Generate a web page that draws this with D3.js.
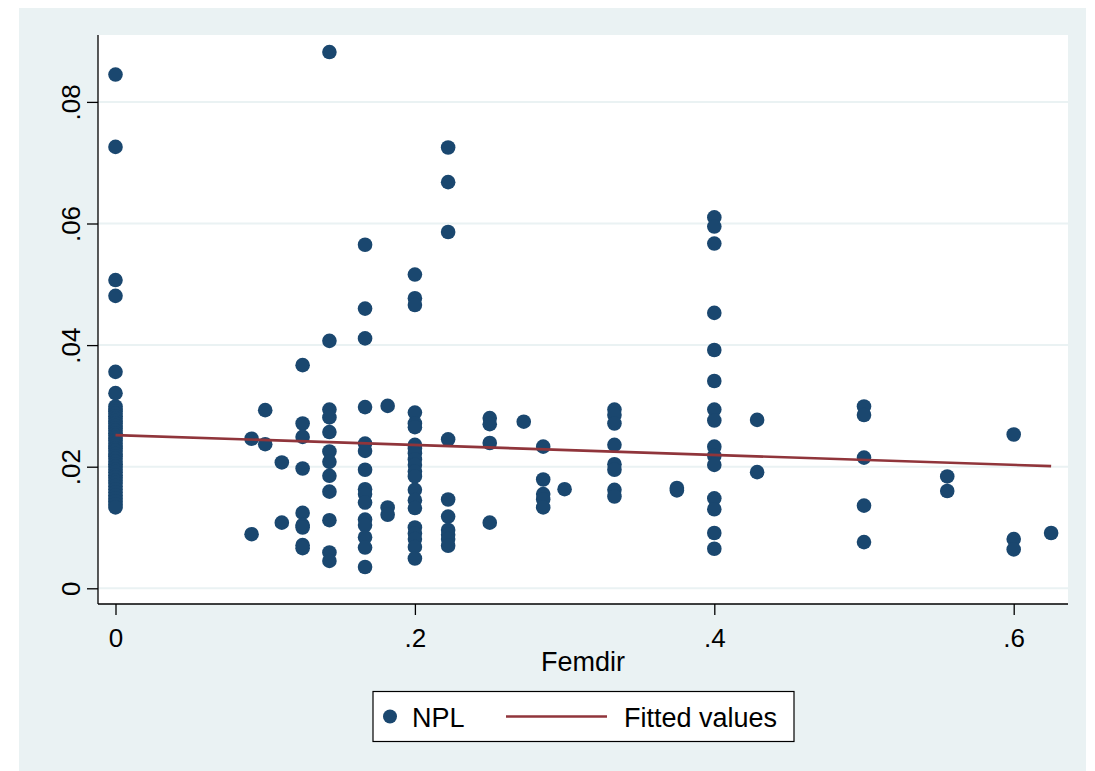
<!DOCTYPE html>
<html>
<head>
    <title>NPL vs Femdir</title>
    <script src="https://d3js.org/d3.v7.min.js"></script>
    <style>
        body { margin: 0; background: #ffffff; }
        text { font-family: 'Liberation Sans', Arial, sans-serif; fill: #000000; }
    </style>
</head>
<body>
    <svg id="chart" width="1095" height="771"></svg>

    <script>
        // x levels of Femdir, and NPL values seen at each level
        var femdirLevels = [0, 0.0909, 0.1, 0.1111, 0.125, 0.1429, 0.1667, 0.1818, 0.2, 0.2222,
                            0.25, 0.2727, 0.2857, 0.3, 0.3333, 0.375, 0.4, 0.4286, 0.5, 0.5556, 0.6, 0.625];

        var nplByLevel = [
            [0.0845, 0.0726, 0.0507, 0.0481, 0.0356, 0.0321, 0.0299, 0.0295, 0.0291, 0.0287, 0.0283,
             0.0279, 0.0275, 0.0271, 0.0267, 0.0263, 0.0259, 0.0255, 0.0251, 0.0247, 0.0243, 0.0238,
             0.0234, 0.0230, 0.0226, 0.0221, 0.0217, 0.0213, 0.0208, 0.0204, 0.0200, 0.0195, 0.0191,
             0.0186, 0.0182, 0.0177, 0.0173, 0.0168, 0.0163, 0.0158, 0.0153, 0.0148, 0.0143, 0.0138, 0.0133],
            [0.0246, 0.0089],
            [0.0293, 0.0237],
            [0.0207, 0.0108],
            [0.0367, 0.0271, 0.0249, 0.0197, 0.0124, 0.0104, 0.0100, 0.0071, 0.0066],
            [0.0882, 0.0407, 0.0294, 0.0281, 0.0257, 0.0225, 0.0208, 0.0185, 0.0159, 0.0112, 0.0059, 0.0045],
            [0.0565, 0.0460, 0.0411, 0.0298, 0.0238, 0.0226, 0.0195, 0.0163, 0.0155, 0.0141, 0.0113,
             0.0104, 0.0084, 0.0067, 0.0035],
            [0.0300, 0.0133, 0.0121],
            [0.0516, 0.0477, 0.0466, 0.0289, 0.0271, 0.0265, 0.0236, 0.0230, 0.0222, 0.0212, 0.0203,
             0.0192, 0.0184, 0.0162, 0.0145, 0.0132, 0.0100, 0.0090, 0.0081, 0.0068, 0.0049],
            [0.0725, 0.0668, 0.0586, 0.0245, 0.0146, 0.0118, 0.0096, 0.0088, 0.0081, 0.0070],
            [0.0280, 0.0270, 0.0239, 0.0108],
            [0.0274],
            [0.0233, 0.0179, 0.0155, 0.0146, 0.0133],
            [0.0163],
            [0.0294, 0.0285, 0.0271, 0.0236, 0.0204, 0.0195, 0.0162, 0.0151],
            [0.0165, 0.0161],
            [0.0610, 0.0595, 0.0567, 0.0453, 0.0392, 0.0341, 0.0294, 0.0276, 0.0233, 0.0218, 0.0203,
             0.0148, 0.0130, 0.0091, 0.0065],
            [0.0277, 0.0191],
            [0.0299, 0.0285, 0.0215, 0.0136, 0.0076],
            [0.0184, 0.0160],
            [0.0253, 0.0081, 0.0064],
            [0.0091]
        ];

        // fitted line ends
        var fitX = [0, 0.625];
        var fitY = [0.0252, 0.0201];

        var xTicks = [0, 0.2, 0.4, 0.6];
        var xTickLabels = ["0", ".2", ".4", ".6"];
        var yTicks = [0, 0.02, 0.04, 0.06, 0.08];
        var yTickLabels = ["0", ".02", ".04", ".06", ".08"];

        var navy = "#1a476f";
        var maroon = "#90353b";
        var bgcol = "#eaf2f3";

        var svg = d3.select("#chart");

        // plot region box
        var plot = { left: 98, right: 1068, top: 35, bottom: 604 };

        var x = d3.scaleLinear().domain([0, 0.6]).range([115.5, 1013.7]);
        var y = d3.scaleLinear().domain([0, 0.08]).range([588.3, 101.9]);

        // outer graph region
        svg.append("rect")
            .attr("x", 19).attr("y", 8)
            .attr("width", 1067).attr("height", 763)
            .attr("fill", bgcol);

        svg.append("rect")
            .attr("x", plot.left).attr("y", plot.top)
            .attr("width", plot.right - plot.left).attr("height", plot.bottom - plot.top)
            .attr("fill", "#ffffff");

        // gridlines
        svg.selectAll(".grid")
            .data(yTicks)
            .enter().append("line")
            .attr("class", "grid")
            .attr("x1", plot.left).attr("x2", plot.right)
            .attr("y1", function(d) { return y(d); })
            .attr("y2", function(d) { return y(d); })
            .attr("stroke", bgcol)
            .attr("stroke-width", 2);

        // points
        var points = [];
        femdirLevels.forEach(function(f, i) {
            nplByLevel[i].forEach(function(v) {
                points.push({ femdir: f, npl: v });
            });
        });

        svg.append("g").selectAll("circle")
            .data(points)
            .enter().append("circle")
            .attr("cx", function(d) { return x(d.femdir); })
            .attr("cy", function(d) { return y(d.npl); })
            .attr("r", 7.3)
            .attr("fill", navy);

        // fitted values
        var fitData = fitX.map(function(d, i) { return [d, fitY[i]]; });
        svg.append("path")
            .datum(fitData)
            .attr("fill", "none")
            .attr("stroke", maroon)
            .attr("stroke-width", 2.6)
            .attr("d", d3.line()
                .x(function(d) { return x(d[0]); })
                .y(function(d) { return y(d[1]); }));

        // axes
        var yAxis = svg.append("g")
            .attr("transform", "translate(" + plot.left + ",0)")
            .call(d3.axisLeft(y).tickValues(yTicks).tickSize(11).tickSizeOuter(0)
                .tickFormat(function(d, i) { return yTickLabels[i]; }));
        yAxis.select(".domain").remove();
        yAxis.selectAll(".tick line").attr("stroke", "#000").attr("stroke-width", 1.3);
        yAxis.selectAll(".tick text")
            .attr("font-size", 26)
            .attr("text-anchor", "middle")
            .attr("x", 0).attr("dy", 0)
            .attr("transform", "translate(-18,0) rotate(-90)");

        var xAxis = svg.append("g")
            .attr("transform", "translate(0," + plot.bottom + ")")
            .call(d3.axisBottom(x).tickValues(xTicks).tickSize(11).tickSizeOuter(0)
                .tickFormat(function(d, i) { return xTickLabels[i]; }));
        xAxis.select(".domain").remove();
        xAxis.selectAll(".tick line").attr("stroke", "#000").attr("stroke-width", 1.3);
        xAxis.selectAll(".tick text")
            .attr("font-size", 26)
            .attr("y", 43).attr("dy", 0);

        svg.append("line")
            .attr("x1", plot.left).attr("x2", plot.left)
            .attr("y1", plot.top).attr("y2", plot.bottom)
            .attr("stroke", "#000").attr("stroke-width", 1.3);
        svg.append("line")
            .attr("x1", plot.left).attr("x2", plot.right)
            .attr("y1", plot.bottom).attr("y2", plot.bottom)
            .attr("stroke", "#000").attr("stroke-width", 1.3);

        svg.append("text")
            .attr("x", (plot.left + plot.right) / 2)
            .attr("y", 671)
            .attr("text-anchor", "middle")
            .attr("font-size", 27)
            .text("Femdir");

        // legend
        var legend = svg.append("g");
        legend.append("rect")
            .attr("x", 373).attr("y", 691.5)
            .attr("width", 421).attr("height", 50)
            .attr("fill", "#ffffff")
            .attr("stroke", "#000").attr("stroke-width", 1.2);
        legend.append("circle")
            .attr("cx", 390).attr("cy", 716.5).attr("r", 7)
            .attr("fill", navy);
        legend.append("text")
            .attr("x", 412).attr("y", 726.5)
            .attr("font-size", 27)
            .text("NPL");
        legend.append("line")
            .attr("x1", 506).attr("x2", 607)
            .attr("y1", 716.5).attr("y2", 716.5)
            .attr("stroke", maroon).attr("stroke-width", 2.6);
        legend.append("text")
            .attr("x", 624).attr("y", 726.5)
            .attr("font-size", 27)
            .text("Fitted values");
    </script>
</body>
</html>
